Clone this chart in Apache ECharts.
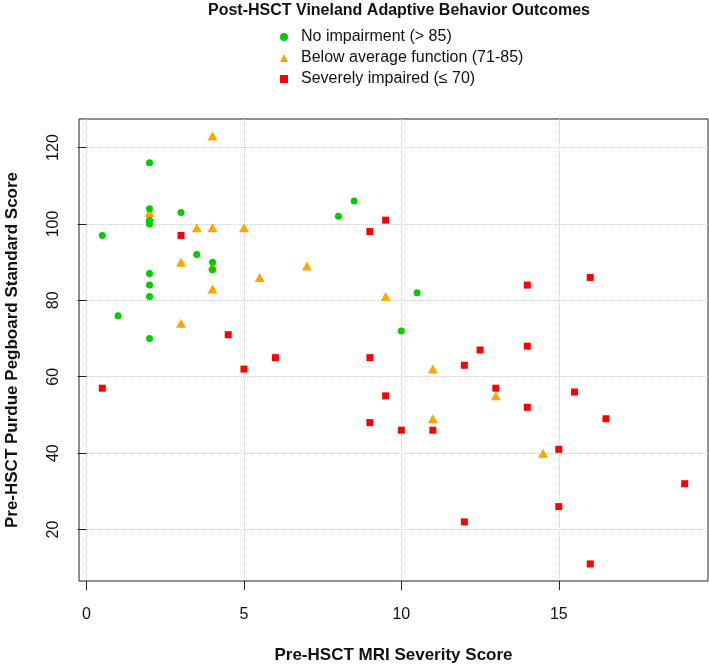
<!DOCTYPE html>
<html>
<head>
<meta charset="utf-8">
<script src="https://cdn.jsdelivr.net/npm/echarts@6/dist/echarts.min.js"></script>
<style>html,body{margin:0;padding:0;background:#fff}#c{width:709px;height:665px}</style>
</head>
<body>
<div id="c"></div>
<script>
// Data
const noImpX = [0.5, 1, 2, 2, 2, 2, 2, 2, 2, 2, 3, 3.5, 4, 4, 8, 8.5, 10.5, 10];
const noImpY = [97, 76, 116, 104, 101, 100, 87, 84, 81, 70, 103, 92, 90, 88, 102, 106, 82, 72];
const belowX = [4, 2, 3.5, 4, 5, 3, 7, 5.5, 4, 3, 9.5, 11, 13, 11, 14.5, 4];
const belowY = [123, 103, 99, 99, 99, 90, 89, 86, 83, 74, 81, 62, 55, 49, 40, 89];
const severeX = [3, 4.5, 6, 9.5, 9, 14, 16, 12.5, 14, 9, 13, 14, 15.5, 16.5, 15, 19, 15, 16, 12, 9.5, 9, 10, 11, 12, 5, 0.5];
const severeY = [97, 71, 65, 101, 98, 84, 86, 67, 68, 65, 57, 52, 56, 49, 41, 32, 26, 11, 63, 55, 48, 46, 46, 22, 62, 57];
const xTicks = [0, 5, 10, 15];
const yTicks = [20, 40, 60, 80, 100, 120];
const seriesNames = ['No impairment (> 85)', 'Below average function (71-85)', 'Severely impaired (\u2264 70)'];

function pairs(xs, ys) { return xs.map((x, i) => [x, ys[i]]); }

const FONT = 'Liberation Sans, Arial, Helvetica, sans-serif';
const chart = echarts.init(document.getElementById('c'), null, { renderer: 'canvas' });
chart.setOption({
  backgroundColor: '#fff',
  animation: false,
  textStyle: { fontFamily: FONT },
  title: {
    text: 'Post-HSCT Vineland Adaptive Behavior Outcomes',
    left: 394, textAlign: 'center', top: -2,
    textStyle: { fontSize: 16, fontWeight: 'bold', color: '#111', fontFamily: FONT }
  },
  legend: {
    orient: 'vertical', left: 280, top: 29, padding: 0,
    itemWidth: 8, itemHeight: 8, itemGap: 5,
    textStyle: { fontSize: 16, color: '#111', lineHeight: 16, padding: [0, 0, 0, 8], fontFamily: FONT },
    data: [
      { name: seriesNames[0], icon: 'circle' },
      { name: seriesNames[1], icon: 'triangle' },
      { name: seriesNames[2], icon: 'rect' }
    ]
  },
  grid: { left: 79, top: 119, width: 629, height: 462, show: true, borderColor: '#222', borderWidth: 1,
          containLabel: false, outerBoundsMode: 'none' },
  xAxis: {
    type: 'value', min: -0.24, max: 19.74,
    name: 'Pre-HSCT MRI Severity Score', nameLocation: 'middle', nameGap: 66,
    nameTextStyle: { fontSize: 17, fontWeight: 'bold', color: '#111', fontFamily: FONT },
    axisLine: { show: false },
    axisTick: { show: true, length: 9, lineStyle: { color: '#222' }, customValues: xTicks },
    axisLabel: { fontSize: 16, color: '#111', margin: 26, customValues: xTicks, fontFamily: FONT },
    splitLine: { show: true, lineStyle: { type: 'dotted', color: '#cfcfcf', width: 1 } }
  },
  yAxis: {
    type: 'value', min: 6.52, max: 127.48,
    name: 'Pre-HSCT Purdue Pegboard Standard Score', nameLocation: 'middle', nameGap: 58,
    nameTextStyle: { fontSize: 17, fontWeight: 'bold', color: '#111', fontFamily: FONT },
    axisLine: { show: false },
    axisTick: { show: true, length: 9, lineStyle: { color: '#222' }, customValues: yTicks },
    axisLabel: { fontSize: 16, color: '#111', margin: 17, rotate: 90, customValues: yTicks, fontFamily: FONT },
    splitLine: { show: true, lineStyle: { type: 'dotted', color: '#cfcfcf', width: 1 } }
  },
  series: [
    { name: seriesNames[1], type: 'scatter', symbol: 'triangle', symbolSize: [10, 9], z: 2,
      itemStyle: { color: '#FFA500', opacity: 1 }, data: pairs(belowX, belowY) },
    { name: seriesNames[0], type: 'scatter', symbol: 'circle', symbolSize: 7, z: 3,
      itemStyle: { color: '#00CD00', opacity: 1 }, data: pairs(noImpX, noImpY) },
    { name: seriesNames[2], type: 'scatter', symbol: 'rect', symbolSize: 7, z: 4,
      itemStyle: { color: '#FF0000', opacity: 1 }, data: pairs(severeX, severeY) }
  ]
});
</script>
</body>
</html>
